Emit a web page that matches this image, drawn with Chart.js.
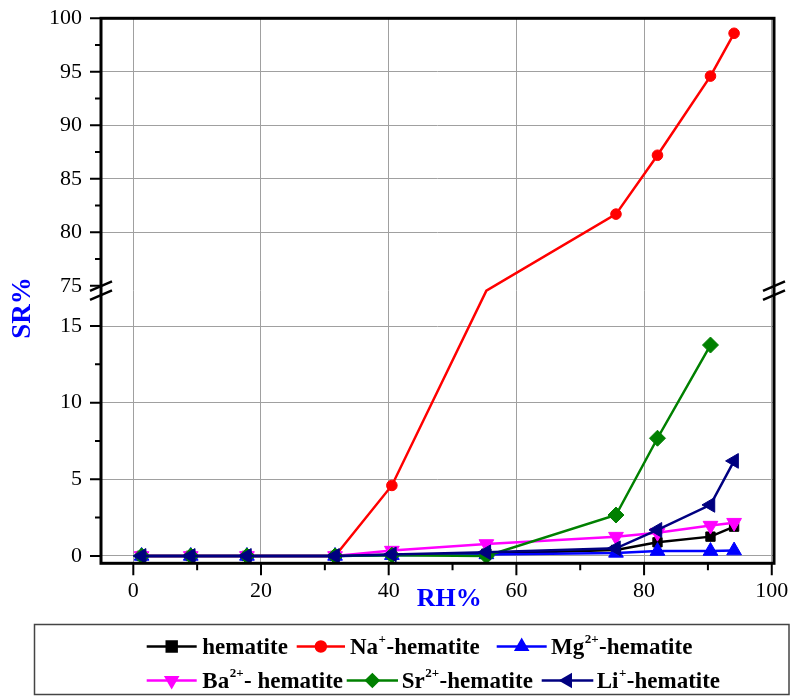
<!DOCTYPE html>
<html>
<head>
<meta charset="utf-8">
<script src="https://cdn.jsdelivr.net/npm/chart.js@4.4.0/dist/chart.umd.min.js"></script>
<style>
  html, body { margin: 0; padding: 0; background: #fff; }
  #wrap { width: 792px; height: 696px; }
</style>
</head>
<body>
<div id="wrap"><canvas id="c" width="792" height="696"></canvas></div>
<script>
// Relative humidity (%) at which sorption was measured
const rh = [1.3, 9.0, 17.8, 31.6, 40.5, 55.3, 75.6, 82.1, 90.4, 94.1];

// Sorption ratio SR% for each sample
const hematite   = [0, 0, 0, 0, 0.08, 0.15, 0.39, 0.89, 1.26, 1.91];
const naHematite = [0, 0, 0, 0, 4.6, 45, 81.7, 87.2, 94.6, 98.6];
const mgHematite = [0, 0, 0, 0, 0.05, 0.1, 0.2, 0.32, 0.32, 0.35];
const baHematite = [0, 0, 0, 0, 0.35, 0.78, 1.26, 1.52, 1.98, 2.17];
const srHematite = [0, 0, 0, 0, 0.05, 0, 2.67, 7.68, 13.76];
const liHematite = [0, 0, 0, 0, 0.1, 0.24, 0.5, 1.7, 3.33, 6.2];

// Legend names: [element, charge, rest]
const seriesNames = [
  ['hematite', '', ''],
  ['Na', '+', '-hematite'],
  ['Mg', '2+', '-hematite'],
  ['Ba', '2+', '- hematite'],
  ['Sr', '2+', '-hematite'],
  ['Li', '+', '-hematite']
];

const xTicks = [0, 20, 40, 60, 80, 100];
const xMinorTicks = [10, 30, 50, 70, 90];
const yTicks = [0, 5, 10, 15, 75, 80, 85, 90, 95, 100];
const yMinorTicks = [2.5, 7.5, 12.5, 77.5, 82.5, 87.5, 92.5, 97.5];

// Broken y axis: lower segment, upper segment and the share of height each takes
const yBreak = { low: [-0.48, 17], high: [75, 100], lowFrac: 0.4916, highFrac: 0.5092 };

function inBreak(v) { return v > yBreak.low[1] && v < yBreak.high[0]; }

class BrokenLinearScale extends Chart.LinearScale {
  buildTicks() {
    return yTicks.map(v => ({ value: v }));
  }
  _frac(v) {
    const b = yBreak;
    if (v <= b.low[1]) return (v - b.low[0]) / (b.low[1] - b.low[0]) * b.lowFrac;
    if (v >= b.high[0]) return b.highFrac + (v - b.high[0]) / (b.high[1] - b.high[0]) * (1 - b.highFrac);
    return b.lowFrac + (v - b.low[1]) / (b.high[0] - b.low[1]) * (b.highFrac - b.lowFrac);
  }
  getPixelForValue(v) {
    return this.bottom - this._frac(v) * (this.bottom - this.top);
  }
  getValueForPixel(p) {
    const b = yBreak;
    const f = (this.bottom - p) / (this.bottom - this.top);
    if (f <= b.lowFrac) return b.low[0] + f / b.lowFrac * (b.low[1] - b.low[0]);
    if (f >= b.highFrac) return b.high[0] + (f - b.highFrac) / (1 - b.highFrac) * (b.high[1] - b.high[0]);
    return b.low[1] + (f - b.lowFrac) / (b.highFrac - b.lowFrac) * (b.high[0] - b.low[1]);
  }
}
BrokenLinearScale.id = 'brokenLinear';
BrokenLinearScale.defaults = Chart.defaults.scales.linear;
Chart.register(BrokenLinearScale);

const serif = "'Liberation Serif', 'Times New Roman', serif";

const styles = [
  { color: '#000000', point: 'rect', rotation: 0, r: 6.6, lr: 7 },
  { color: '#ff0000', point: 'circle', rotation: 0, r: 5.3, lr: 5 },
  { color: '#0000ff', point: 'triangle', rotation: 0, r: 8.5, lr: 6.5 },
  { color: '#ff00ff', point: 'triangle', rotation: 180, r: 8.5, lr: 6.5 },
  { color: '#008000', point: 'rectRot', rotation: 0, r: 8, lr: 6 },
  { color: '#000080', point: 'triangle', rotation: -90, r: 8.5, lr: 6.5 }
];
const seriesValues = [hematite, naHematite, mgHematite, baHematite, srHematite, liHematite];

const datasets = seriesValues.map((vals, i) => ({
  label: seriesNames[i].join(''),
  data: vals.map((v, j) => ({ x: rh[j], y: v })),
  borderColor: styles[i].color,
  backgroundColor: styles[i].color,
  borderWidth: 2.5,
  pointStyle: styles[i].point,
  rotation: styles[i].rotation,
  pointRadius: ctx => (ctx.raw && inBreak(ctx.raw.y)) ? 0 : styles[i].r,
  pointBorderWidth: 1,
  tension: 0,
  order: 5 - i
}));

// Legend layout: sample line start/end, text start, row centre line
const legendSlots = [
  { x0: 146.7, x1: 196.7, tx: 202.3, y: 646.5 },
  { x0: 296.7, x1: 345.0, tx: 350.0, y: 646.5 },
  { x0: 496.7, x1: 546.7, tx: 551.0, y: 646.5 },
  { x0: 146.7, x1: 196.7, tx: 202.3, y: 680.5 },
  { x0: 346.7, x1: 398.0, tx: 401.7, y: 680.5 },
  { x0: 541.7, x1: 593.3, tx: 596.7, y: 680.5 }
];

const framePlugin = {
  id: 'frame',
  afterDraw(chart) {
    const { ctx, chartArea: a, scales } = chart;
    const xs = scales.x, ys = scales.y;
    ctx.save();
    ctx.strokeStyle = '#000';
    ctx.lineCap = 'butt';

    // ticks (outward)
    ctx.lineWidth = 2;
    ctx.beginPath();
    xTicks.forEach(v => { const p = xs.getPixelForValue(v); ctx.moveTo(p, a.bottom); ctx.lineTo(p, a.bottom + 12); });
    xMinorTicks.forEach(v => { const p = xs.getPixelForValue(v); ctx.moveTo(p, a.bottom); ctx.lineTo(p, a.bottom + 7); });
    yTicks.forEach(v => { const p = ys.getPixelForValue(v); ctx.moveTo(a.left, p); ctx.lineTo(a.left - 11, p); });
    yMinorTicks.forEach(v => { const p = ys.getPixelForValue(v); ctx.moveTo(a.left, p); ctx.lineTo(a.left - 6, p); });
    ctx.stroke();

    // frame
    ctx.lineWidth = 3;
    ctx.strokeRect(a.left, a.top, a.right - a.left, a.bottom - a.top);

    // break marks on both vertical axes
    const yb = (ys.getPixelForValue(yBreak.low[1]) + ys.getPixelForValue(yBreak.high[0])) / 2;
    ctx.lineWidth = 2.5;
    ctx.beginPath();
    [a.left, a.right].forEach(xa => {
      [-4.5, 4.5].forEach(d => {
        ctx.moveTo(xa - 11, yb + d + 4.7);
        ctx.lineTo(xa + 11, yb + d - 4.7);
      });
    });
    ctx.stroke();

    // axis titles
    ctx.fillStyle = '#0000ff';
    ctx.font = 'bold 26px ' + serif;
    ctx.textAlign = 'center';
    ctx.textBaseline = 'middle';
    ctx.fillText('RH%', xs.getPixelForValue(49.5), 599);
    ctx.save();
    ctx.translate(23, 308);
    ctx.rotate(-Math.PI / 2);
    ctx.font = 'bold 27px ' + serif;
    ctx.fillText('SR%', 0, 0);
    ctx.restore();

    // legend box
    ctx.strokeStyle = '#444';
    ctx.lineWidth = 1.5;
    ctx.strokeRect(34.5, 624.5, 754.5, 70);

    // legend entries
    chart.data.datasets.forEach((ds, i) => {
      const s = legendSlots[i], st = styles[i];
      ctx.strokeStyle = st.color;
      ctx.fillStyle = st.color;
      ctx.lineWidth = 2.5;
      ctx.beginPath();
      ctx.moveTo(s.x0, s.y);
      ctx.lineTo(s.x1, s.y);
      ctx.stroke();
      Chart.helpers.drawPoint(ctx, {
        pointStyle: st.point, rotation: st.rotation, radius: st.lr, borderWidth: 1
      }, (s.x0 + s.x1) / 2, s.y);

      const [base, sup, rest] = seriesNames[i];
      ctx.fillStyle = '#000';
      ctx.textAlign = 'left';
      ctx.textBaseline = 'alphabetic';
      const baseY = s.y + 7;
      let x = s.tx;
      ctx.font = 'bold 23px ' + serif;
      ctx.fillText(base, x, baseY);
      x += ctx.measureText(base).width;
      if (sup) {
        ctx.font = 'bold 13px ' + serif;
        ctx.fillText(sup, x + 0.5, baseY - 11);
        x += ctx.measureText(sup).width + 1;
        ctx.font = 'bold 23px ' + serif;
        ctx.fillText(rest, x, baseY);
      }
    });
    ctx.restore();
  }
};

new Chart(document.getElementById('c'), {
  type: 'line',
  data: { datasets },
  options: {
    responsive: false,
    animation: false,
    layout: { padding: { top: 18.3, right: 18, bottom: 0, left: 0 } },
    plugins: { legend: { display: false }, tooltip: { enabled: false } },
    scales: {
      x: {
        type: 'linear',
        min: -5.06,
        max: 100.35,
        afterBuildTicks: s => { s.ticks = xTicks.map(v => ({ value: v })); },
        afterFit: s => { s.height = 696 - 563.3; s.paddingLeft = 0; s.paddingRight = 0; },
        border: { display: false },
        grid: { color: '#a0a0a0', lineWidth: 1, drawTicks: false },
        ticks: { padding: 15, color: '#000', font: { family: serif, size: 22 } }
      },
      y: {
        type: 'brokenLinear',
        min: yBreak.low[0],
        max: yBreak.high[1],
        afterFit: s => { s.width = 101; s.paddingTop = 0; s.paddingBottom = 0; },
        border: { display: false },
        grid: {
          color: c => (c.tick && (c.tick.value === 75 || c.tick.value === 100)) ? 'rgba(0,0,0,0)' : '#a0a0a0',
          lineWidth: 1,
          drawTicks: false
        },
        ticks: { padding: 19, color: '#000', font: { family: serif, size: 22 } }
      }
    }
  },
  plugins: [framePlugin]
});
</script>
</body>
</html>
